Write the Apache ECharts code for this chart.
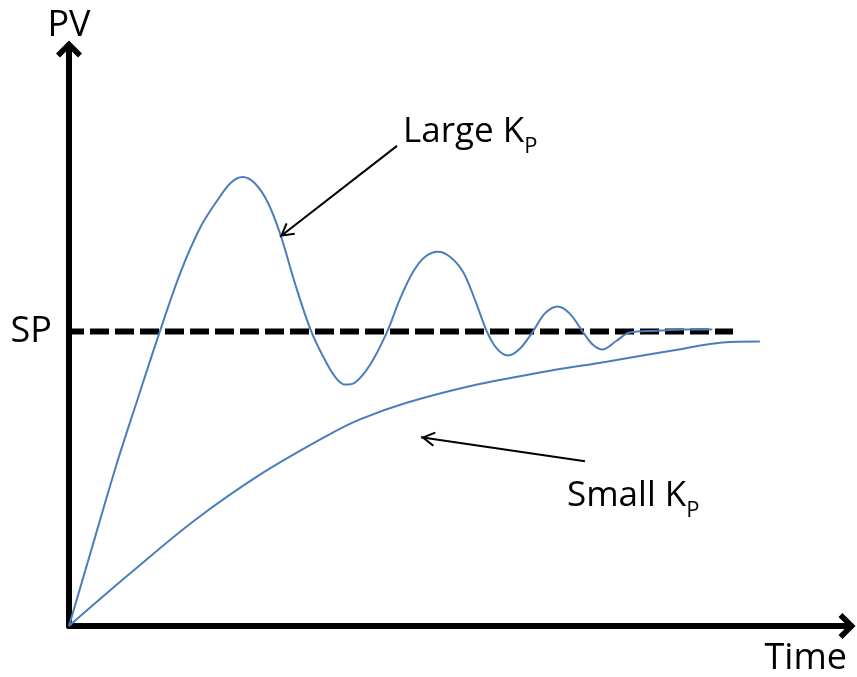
<!DOCTYPE html>
<html>
<head>
<meta charset="utf-8">
<script src="https://cdn.jsdelivr.net/npm/echarts@6/dist/echarts.min.js"></script>
<style>
html,body{margin:0;padding:0;background:#fff;}
#chart{width:857px;height:677px;}
</style>
</head>
<body>
<div id="chart"></div>
<script>
// Large Kp response (time, PV), SP = 1
const largeKpTime = [0, 0.282, 0.603, 0.885, 1.167, 1.436, 1.692, 1.910, 2.077, 2.231, 2.385, 2.551, 2.718, 2.910, 3.115, 3.321, 3.449, 3.551, 3.679, 3.872, 4.090, 4.256, 4.423, 4.577, 4.744, 4.897, 5.064, 5.218, 5.372, 5.500, 5.641, 5.795, 5.962, 6.115, 6.282, 6.436, 6.603, 6.731, 6.859, 7.038, 7.205, 7.551, 7.910, 8.269];
const largeKpPV   = [0, 0.254, 0.542, 0.773, 1.000, 1.203, 1.356, 1.447, 1.505, 1.525, 1.505, 1.441, 1.329, 1.159, 1.000, 0.888, 0.837, 0.820, 0.827, 0.888, 1.000, 1.112, 1.203, 1.254, 1.271, 1.254, 1.203, 1.108, 1.000, 0.942, 0.919, 0.942, 1.000, 1.061, 1.085, 1.061, 1.000, 0.956, 0.939, 0.969, 0.997, 1.003, 1.007, 1.007];
// Small Kp response
const smallKpTime = [0, 0.76, 1.60, 2.46, 3.32, 3.74, 4.35, 5.19, 6.05, 6.91, 7.76, 8.40, 8.88];
const smallKpPV   = [0, 0.173, 0.356, 0.515, 0.647, 0.702, 0.759, 0.817, 0.861, 0.898, 0.936, 0.963, 0.966];
// Setpoint line
const spTime = [0, 8.535];
const spPV = [1, 1];
// Annotation arrows: [startTime, startPV, tipTime, tipPV]
const largeArrow = [4.216, 1.631, 2.712, 1.322];
const smallArrow = [6.632, 0.560, 4.524, 0.641];
// Texts
const yName = 'PV';
const xName = 'Time';
const spLabel = 'SP';
const largeLabel = ['Large K', 'P'];
const smallLabel = ['Small K', 'P'];

const zip = (a, b) => a.map((v, i) => [v, b[i]]);
const FONT = 'Open Sans';
const BLUE = '#4a7ebb';

const axisArrow = 'path://M13 0 L26 13 L22 17 L13 8 L4 17 L0 13 Z';
const thinArrow = 'path://M8 -1 L8 -0.99 M8 13 L15.5 26 L13.8 27 L8 17 L2.2 27 L0.5 26 Z';

const chart = echarts.init(document.getElementById('chart'), null, {renderer: 'canvas'});
const richLabel = {
  a: {fontFamily: FONT, fontSize: 35, color: '#000', lineHeight: 50, verticalAlign: 'middle'},
  s: {fontFamily: FONT, fontSize: 22, color: '#000', lineHeight: 22, verticalAlign: 'bottom'}
};

chart.setOption({
  animation: false,
  backgroundColor: '#fff',
  grid: {left: 69, right: 10, top: 49, bottom: 50, containLabel: false},
  xAxis: {
    type: 'value', min: 0, max: 10,
    name: xName, nameLocation: 'end', nameGap: 0,
    nameTextStyle: {fontFamily: FONT, fontSize: 36, color: '#000', align: 'right', verticalAlign: 'top', padding: [15, 0, 0, 0]},
    axisLine: {show: true, onZero: false, lineStyle: {color: '#000', width: 6}, symbol: ['none', axisArrow], symbolSize: [26, 17]},
    axisTick: {show: false}, axisLabel: {show: false}, splitLine: {show: false}
  },
  yAxis: {
    type: 'value', min: 0, max: 1.96, interval: 1,
    name: yName, nameLocation: 'end', nameGap: 5,
    nameTextStyle: {fontFamily: FONT, fontSize: 36, color: '#000', align: 'center'},
    axisLine: {show: true, onZero: false, lineStyle: {color: '#000', width: 6}, symbol: ['none', axisArrow], symbolSize: [26, 17]},
    axisTick: {show: false},
    axisLabel: {show: true, margin: 17, fontFamily: FONT, fontSize: 36, color: '#000',
      formatter: v => (v === 1 ? spLabel : '')},
    splitLine: {show: false}
  },
  series: [
    {
      type: 'line', name: 'SP', data: zip(spTime, spPV), showSymbol: false, z: 3,
      lineStyle: {color: '#000', width: 6, type: [19, 6], dashOffset: 4}
    },
    {
      type: 'line', name: 'Large Kp', data: zip(largeKpTime, largeKpPV), smooth: 0.33, showSymbol: false, z: 4,
      lineStyle: {color: BLUE, width: 2},
      markLine: {
        silent: true, symbol: ['none', thinArrow], symbolSize: [15, 28],
        lineStyle: {color: '#000', width: 2, type: 'solid'}, label: {show: false},
        data: [
          [{coord: [largeArrow[0], largeArrow[1]]}, {coord: [largeArrow[2], largeArrow[3]]}],
          [{coord: [smallArrow[0], smallArrow[1]]}, {coord: [smallArrow[2], smallArrow[3]]}]
        ]
      }
    },
    {
      type: 'line', name: 'Small Kp', data: zip(smallKpTime, smallKpPV), smooth: 0.33, showSymbol: false, z: 4,
      lineStyle: {color: BLUE, width: 2}
    }
  ],
  graphic: [
    {type: 'text', left: 403, top: 115, style: {text: '{a|' + largeLabel[0] + '}{s|' + largeLabel[1] + '}', rich: richLabel}},
    {type: 'text', left: 567, top: 479, style: {text: '{a|' + smallLabel[0] + '}{s|' + smallLabel[1] + '}', rich: richLabel}}
  ]
});
</script>
</body>
</html>
